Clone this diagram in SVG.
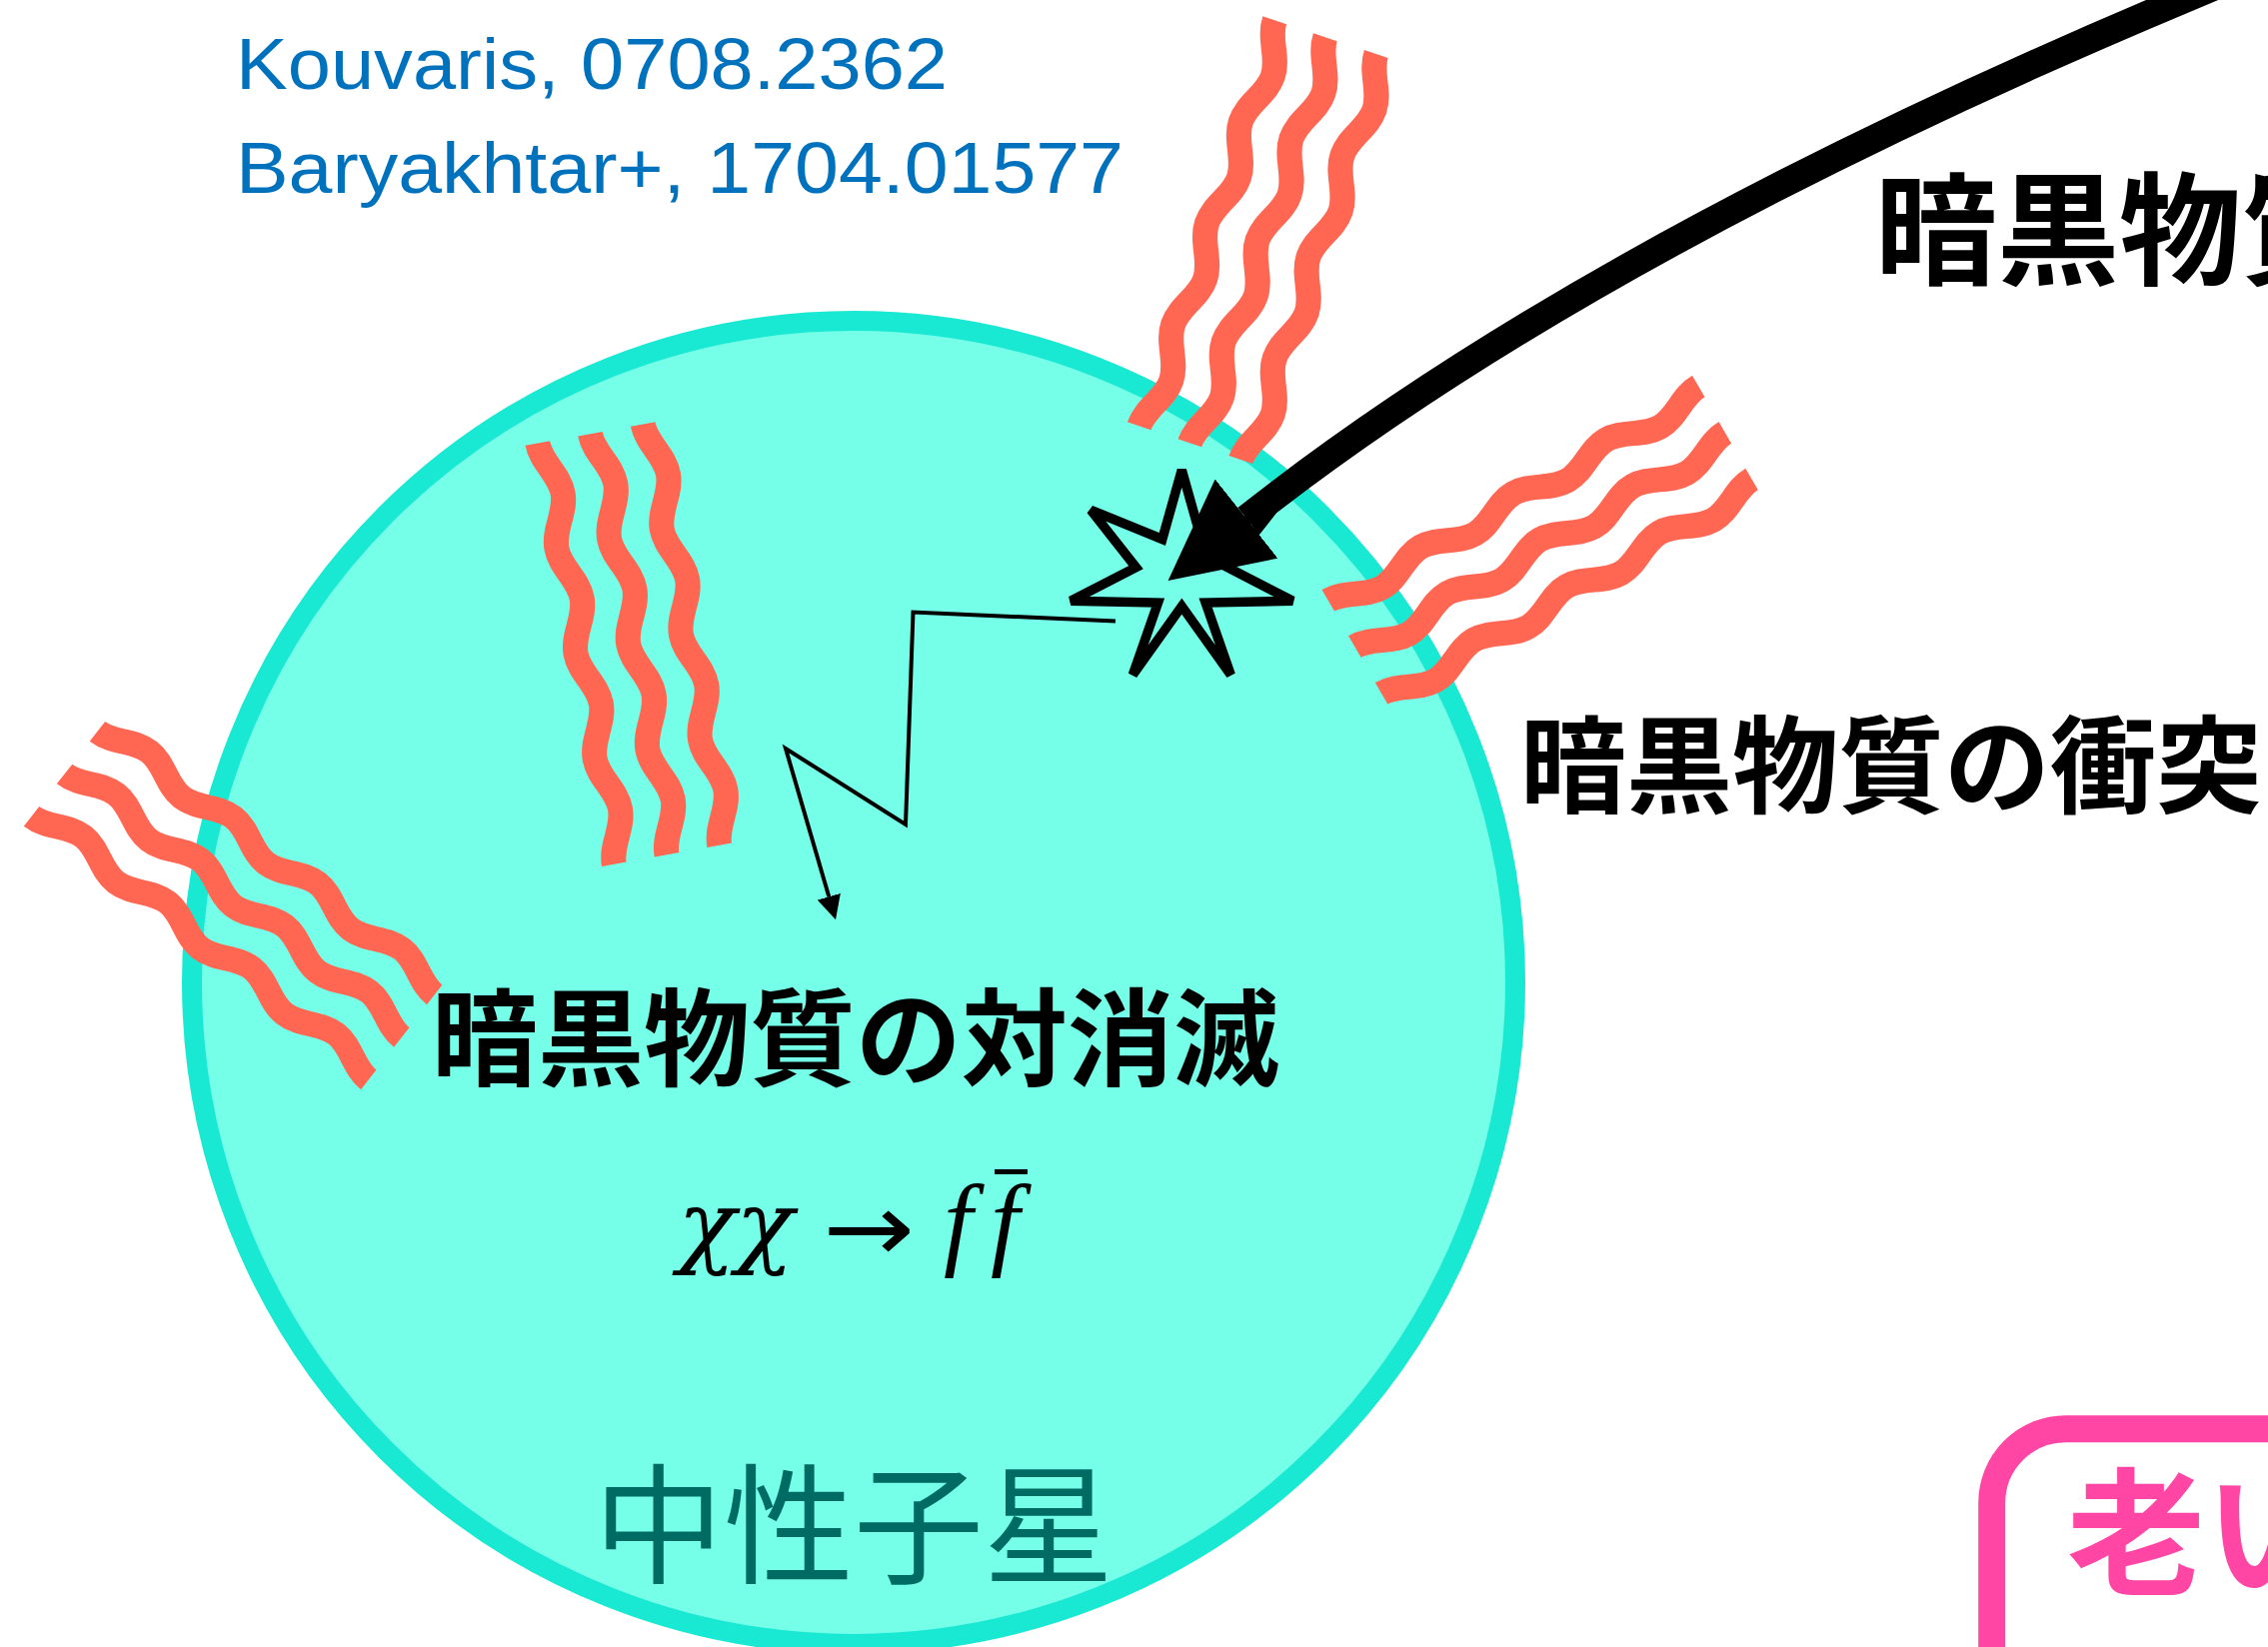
<svg xmlns="http://www.w3.org/2000/svg" width="2269" height="1648" viewBox="0 0 2269 1648">
  <style>
    .cite { font-family: "Liberation Sans", Arial, sans-serif; font-size: 72px; fill: #0071BC; }
    .jp { font-family: "Noto Sans CJK JP", "Noto Sans CJK SC", sans-serif; font-weight: 700; fill: #000; }
    .wave { fill: none; stroke: #FF6752; stroke-width: 25; stroke-linecap: butt; }
    .math { font-family: "Liberation Serif", "Times New Roman", serif; font-style: italic; font-size: 104px; fill: #000; }
  </style>
  <defs>
    <!-- one wavy photon line: 4 periods, 428 long, bulging to local +y -->
    <path id="wv" d="M0,0 C19.44,0 34.06,16 53.5,16 S87.56,0 107,0 S141.06,16 160.5,16 S194.56,0 214,0 S248.06,16 267.5,16 S301.56,0 321,0 S355.06,16 374.5,16 S408.56,0 428,0"/>
    <marker id="head-big" markerUnits="userSpaceOnUse" markerWidth="100" markerHeight="101" refX="0" refY="50.5" orient="auto" viewBox="0 0 100 101">
      <path d="M0,0 L100,50.5 L0,101 z" fill="#000"/>
    </marker>
    <marker id="head-small" markerUnits="userSpaceOnUse" markerWidth="24" markerHeight="24" refX="0" refY="12" orient="auto" viewBox="0 0 24 24">
      <path d="M0,0 L24,12 L0,24 z" fill="#000"/>
    </marker>
  </defs>

  <rect width="2269" height="1648" fill="#fff"/>

  <!-- citations -->
  <g id="citations">
    <text class="cite" x="236" y="89" textLength="712" lengthAdjust="spacingAndGlyphs">Kouvaris, 0708.2362</text>
    <text class="cite" x="236" y="193" textLength="888" lengthAdjust="spacingAndGlyphs">Baryakhtar+, 1704.01577</text>
  </g>

  <!-- neutron star body -->
  <g id="neutron-star">
    <circle cx="854" cy="983" r="662" fill="#76FFE8" stroke="#19E9D3" stroke-width="20"/>
    <text x="594" y="1574" font-family="'Noto Sans CJK JP', 'Noto Sans CJK SC', sans-serif" font-size="130" fill="#006B63">中性子星</text>
  </g>

  <!-- heat radiated from inside -->
  <g id="waves-inner" class="wave">
    <use href="#wv" transform="translate(614.3,864.7) rotate(-100.3)"/>
    <use href="#wv" transform="translate(667,855.3) rotate(-100.3)"/>
    <use href="#wv" transform="translate(719.7,845.7) rotate(-100.3)"/>
  </g>

  <!-- collision burst -->
  <g id="burst">
    <polygon points="1182.3,470.3 1201.8,539.5 1273.3,510.3 1228.1,567.7 1293.3,601.3 1206.1,603 1231.3,675.3 1182.3,606.6 1133.3,675.3 1158.5,603 1071.3,601.3 1136.5,567.7 1091.3,510.3 1162.8,539.5" fill="#76FFE8" stroke="#000" stroke-width="9.5" stroke-linejoin="miter" stroke-miterlimit="2.5"/>
  </g>

  <!-- heat radiated at the surface -->
  <g id="waves-top" class="wave">
    <use href="#wv" transform="translate(1139.7,426.3) rotate(-71.55)"/>
    <use href="#wv" transform="translate(1190.3,443.3) rotate(-71.55)"/>
    <use href="#wv" transform="translate(1241.3,460) rotate(-71.55)"/>
  </g>
  <g id="waves-right" class="wave">
    <use href="#wv" transform="translate(1328.7,600.7) rotate(-30.03)"/>
    <use href="#wv" transform="translate(1355.3,647) rotate(-30.03)"/>
    <use href="#wv" transform="translate(1382,693.7) rotate(-30.03)"/>
  </g>
  <g id="waves-left" class="wave">
    <use href="#wv" transform="translate(434.7,995.3) rotate(-142)"/>
    <use href="#wv" transform="translate(401.8,1038) rotate(-142)"/>
    <use href="#wv" transform="translate(368.8,1080.3) rotate(-142)"/>
  </g>

  <!-- connectors -->
  <g id="connectors" fill="none" stroke="#000">
    <path d="M2300,-49 L2183,0 Q1587,250 1247,519" stroke-width="28" marker-end="url(#head-big)"/>
    <polyline points="1116,621.5 913.5,612.5 906,825 786,749 829.3,897.2" stroke-width="4" stroke-linejoin="miter" marker-end="url(#head-small)"/>
  </g>

  <!-- labels -->
  <g id="label-infall">
    <text class="jp" x="1876" y="275" font-size="122">暗黒物質</text>
  </g>
  <g id="label-collision">
    <text class="jp" x="1521" y="805" font-size="106">暗黒物質の衝突</text>
  </g>
  <g id="label-annihilation">
    <text class="jp" x="432" y="1078" font-size="106">暗黒物質の対消滅</text>
    <text x="678" y="1257" font-family="'DejaVu Serif', serif" font-style="italic" font-size="92" textLength="116" lengthAdjust="spacingAndGlyphs">χχ</text>
    <text x="823" y="1262" font-family="'DejaVu Sans', sans-serif" font-size="96" textLength="92" lengthAdjust="spacingAndGlyphs">→</text>
    <text class="math" x="944" y="1257">f</text>
    <text class="math" x="991" y="1257">f</text>
    <rect x="995" y="1170" width="33" height="5" fill="#000"/>
  </g>

  <!-- old star box -->
  <g id="old-star">
    <rect x="1992.7" y="1429.7" width="400" height="400" rx="74" fill="none" stroke="#FF46A5" stroke-width="27"/>
    <text class="jp" x="2068" y="1585" font-size="138" style="fill:#FF46A5">老い</text>
  </g>
</svg>
